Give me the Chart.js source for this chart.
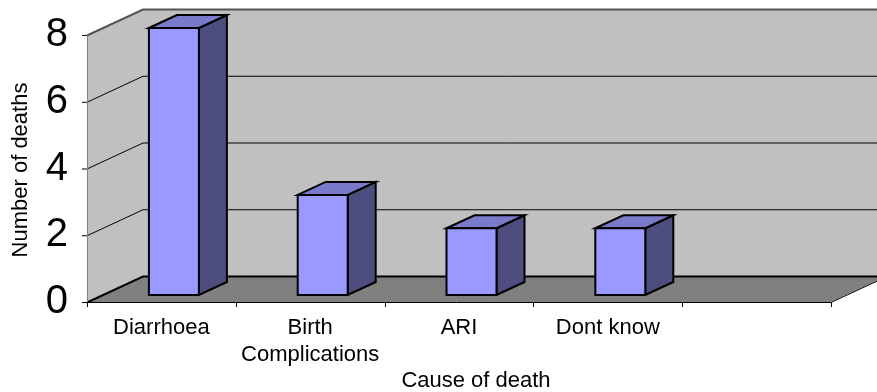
<!DOCTYPE html>
<html>
<head>
<meta charset="utf-8">
<script src="https://cdn.jsdelivr.net/npm/chart.js@4/dist/chart.umd.min.js"></script>
<style>
html,body{margin:0;padding:0;background:#fff;}
#wrap{width:877px;height:392px;position:relative;}
</style>
</head>
<body>
<div id="wrap"><canvas id="c" width="877" height="392"></canvas></div>
<script>
const categories = ['Diarrhoea', ['Birth', 'Complications'], 'ARI', 'Dont know', ''];
const deaths = [8, 3, 2, 2, null];
const yTicks = [0, 2, 4, 6, 8];
const xTitle = 'Cause of death';
const yTitle = 'Number of deaths';

const FONT = '"Liberation Sans", Arial, sans-serif';
const WALL_DX = 56, WALL_DY = -26;      // depth of the 3D box
const BAR_OX = 12.5, BAR_OY = -7;       // bar front offset inside the depth
const BAR_DX = 28, BAR_DY = -13;        // bar depth

const threeD = {
  id: 'threeD',
  beforeDatasetsDraw(chart) {
    const ctx = chart.ctx, a = chart.chartArea;
    const ys = chart.scales.y;
    const L = a.left, R = a.right, T = ys.getPixelForValue(8), B = ys.getPixelForValue(0);
    ctx.save();
    ctx.fillStyle = '#C0C0C0';
    ctx.beginPath();
    ctx.moveTo(L, B); ctx.lineTo(L, T); ctx.lineTo(L + WALL_DX, T + WALL_DY);
    ctx.lineTo(L + WALL_DX, B + WALL_DY); ctx.closePath(); ctx.fill();
    ctx.fillRect(L + WALL_DX, T + WALL_DY, R - L + 10, B - T);
    ctx.fillStyle = '#808080';
    ctx.beginPath();
    ctx.moveTo(L, B); ctx.lineTo(L + WALL_DX, B + WALL_DY); ctx.lineTo(R + WALL_DX, B + WALL_DY);
    ctx.lineTo(R, B); ctx.closePath(); ctx.fill();
    yTicks.forEach(v => {
      const y = ys.getPixelForValue(v);
      ctx.strokeStyle = v === 8 ? '#555555' : '#000000';
      ctx.lineWidth = (v === 0 || v === 8) ? 2 : 1;
      ctx.beginPath();
      ctx.moveTo(L, y + 0.5); ctx.lineTo(L + WALL_DX, y + WALL_DY + 0.5); ctx.lineTo(chart.width + 5, y + WALL_DY + 0.5);
      ctx.stroke();
      ctx.strokeStyle = '#000'; ctx.lineWidth = 1;
      ctx.beginPath(); ctx.moveTo(L - 5, y + 0.5); ctx.lineTo(L, y + 0.5); ctx.stroke();
    });
    ctx.strokeStyle = '#808080'; ctx.lineWidth = 1;
    ctx.beginPath(); ctx.moveTo(L + 0.5, T); ctx.lineTo(L + 0.5, B + 5); ctx.stroke();
    ctx.strokeStyle = '#000'; ctx.lineWidth = 1;
    ctx.beginPath(); ctx.moveTo(L - 5, B + 0.5); ctx.lineTo(R, B + 0.5); ctx.lineTo(R + WALL_DX, B + WALL_DY + 0.5); ctx.stroke();
    const n = categories.length;
    for (let i = 0; i <= n; i++) {
      const x = Math.round(L + (R - L) * i / n) + 0.5;
      ctx.beginPath(); ctx.moveTo(x, B); ctx.lineTo(x, B + 5); ctx.stroke();
    }
    ctx.restore();
  },
  afterDatasetsDraw(chart) {
    const ctx = chart.ctx;
    const meta = chart.getDatasetMeta(0);
    ctx.save();
    ctx.lineWidth = 2; ctx.strokeStyle = '#000'; ctx.lineJoin = 'miter';
    meta.data.forEach((el, i) => {
      if (deaths[i] == null) return;
      const p = el.getProps(['x', 'y', 'base', 'width'], true);
      const x0 = p.x - p.width / 2 + BAR_OX, x1 = p.x + p.width / 2 + BAR_OX;
      const top = p.y + BAR_OY, bot = p.base + BAR_OY;
      ctx.fillStyle = '#4D4D80';
      ctx.beginPath();
      ctx.moveTo(x1, top); ctx.lineTo(x1 + BAR_DX, top + BAR_DY); ctx.lineTo(x1 + BAR_DX, bot + BAR_DY);
      ctx.lineTo(x1, bot); ctx.closePath(); ctx.fill(); ctx.stroke();
      ctx.fillStyle = '#7A7ACA';
      ctx.beginPath();
      ctx.moveTo(x0, top); ctx.lineTo(x0 + BAR_DX, top + BAR_DY); ctx.lineTo(x1 + BAR_DX, top + BAR_DY);
      ctx.lineTo(x1, top); ctx.closePath(); ctx.fill(); ctx.stroke();
      ctx.fillStyle = '#9999FF';
      ctx.beginPath(); ctx.rect(x0, top, x1 - x0, bot - top); ctx.fill(); ctx.stroke();
    });
    ctx.restore();
  },
  afterDraw(chart) {
    const ctx = chart.ctx;
    ctx.save();
    ctx.fillStyle = '#000';
    ctx.font = '22px ' + FONT;
    ctx.textAlign = 'center'; ctx.textBaseline = 'middle';
    ctx.fillText(xTitle, 476, 381);
    ctx.translate(21, 170); ctx.rotate(-Math.PI / 2);
    ctx.fillText(yTitle, 0, 0);
    ctx.restore();
  }
};

new Chart(document.getElementById('c'), {
  type: 'bar',
  data: {
    labels: categories,
    datasets: [{
      data: deaths,
      backgroundColor: 'rgba(0,0,0,0)',
      borderWidth: 0,
      categoryPercentage: 1,
      barPercentage: 0.336
    }]
  },
  options: {
    responsive: false,
    animation: false,
    events: [],
    layout: { padding: { top: 34, right: 46, left: 0, bottom: 0 } },
    plugins: { legend: { display: false }, tooltip: { enabled: false } },
    scales: {
      x: {
        grid: { display: false },
        border: { display: false },
        ticks: { color: '#000', font: { family: FONT, size: 22, lineHeight: 1.25 }, padding: 4, maxRotation: 0, autoSkip: false },
        afterFit(s) { s.height = 90; }
      },
      y: {
        min: 0, max: 8,
        afterBuildTicks(s) { s.ticks = yTicks.map(v => ({ value: v })); },
        grid: { display: false },
        border: { display: false },
        ticks: { color: '#000', font: { family: FONT, size: 40 }, padding: 11 },
        afterFit(s) { s.width = 87; }
      }
    }
  },
  plugins: [threeD]
});
</script>
</body>
</html>
